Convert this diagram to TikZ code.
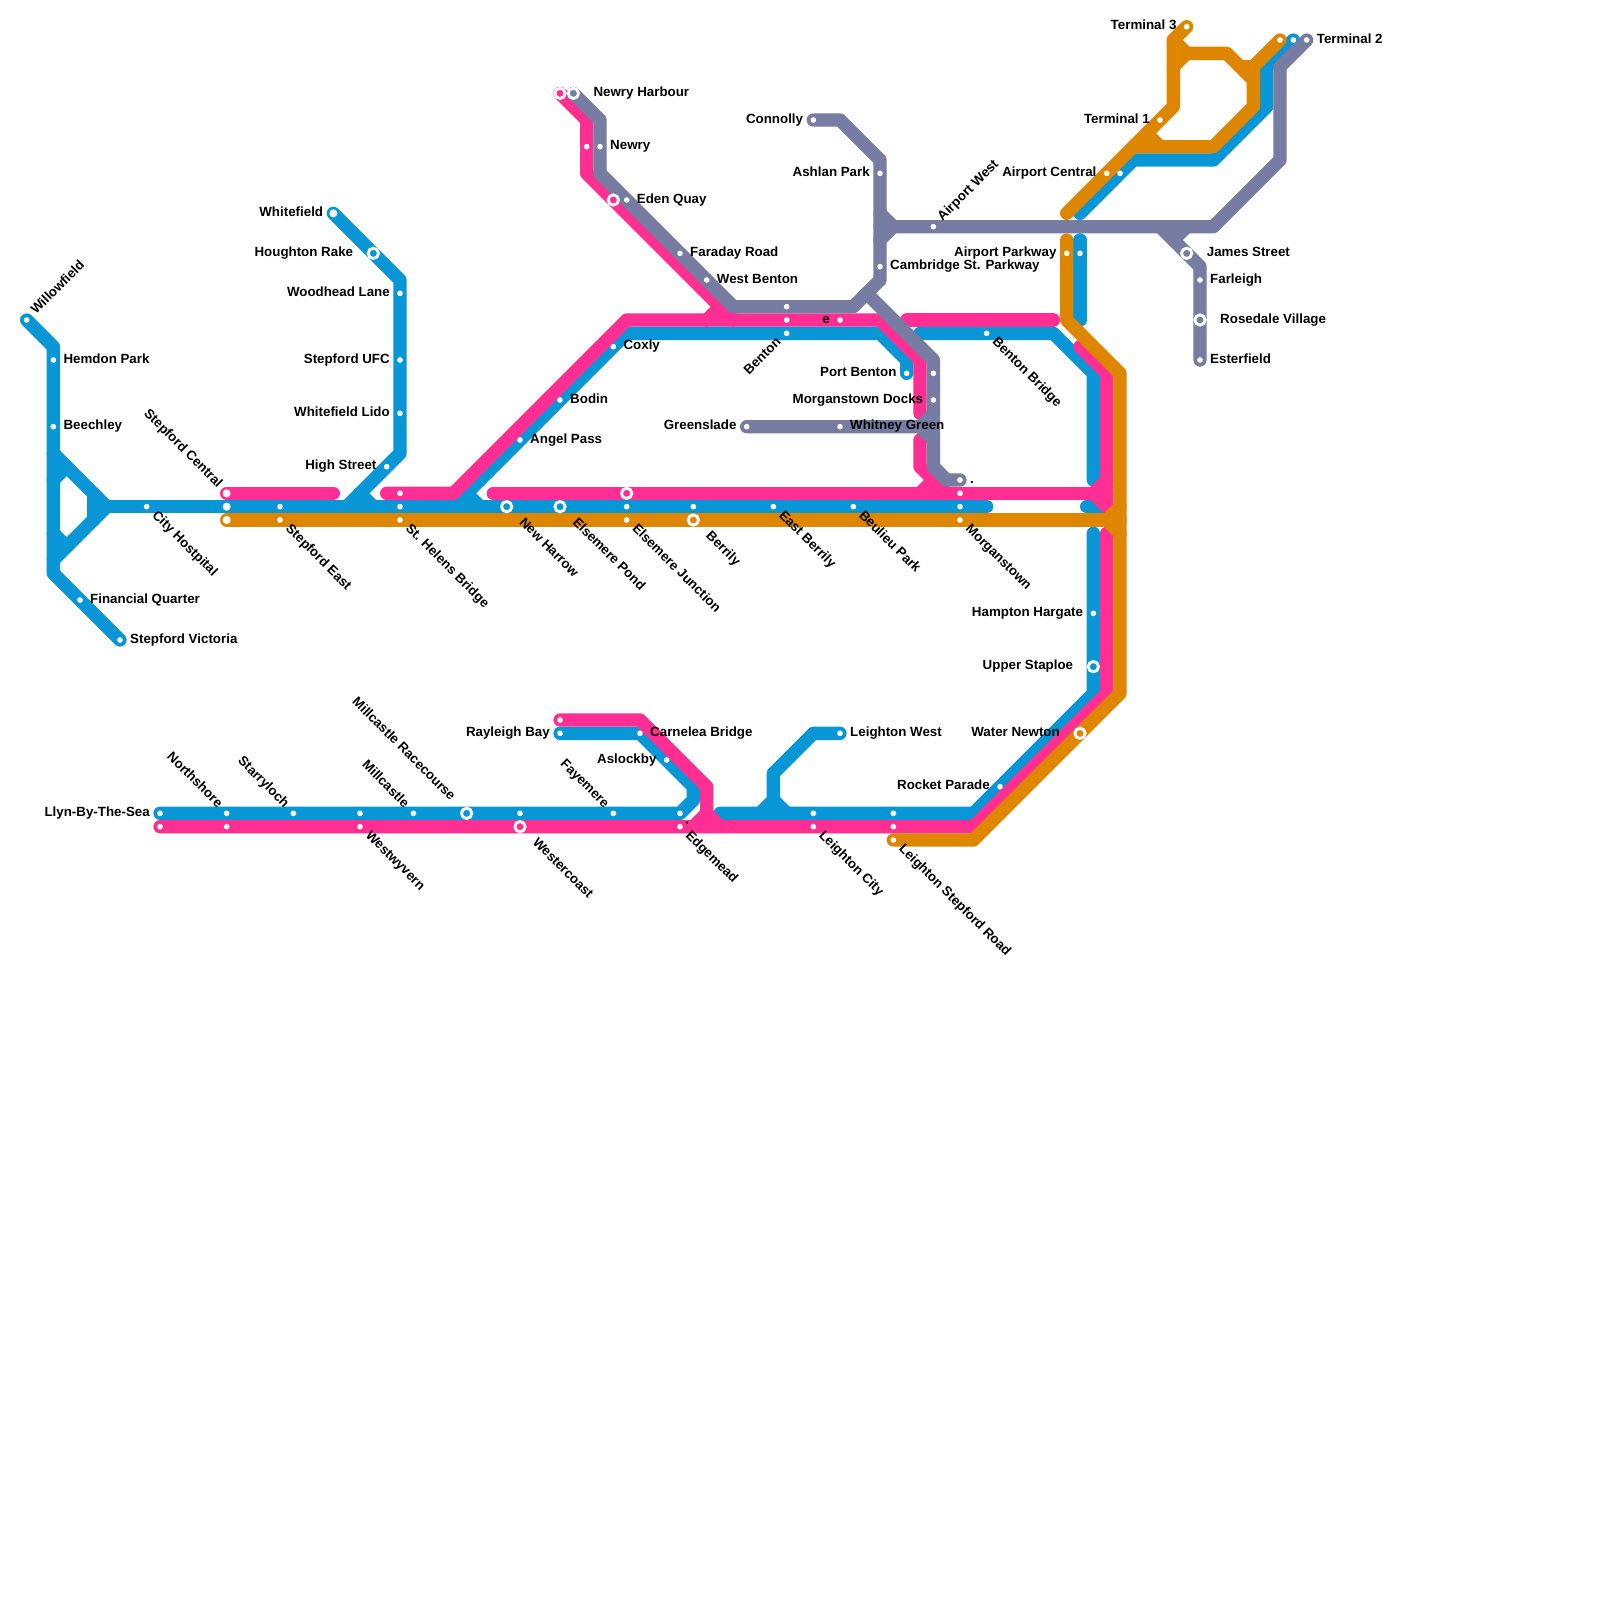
\documentclass[tikz,border=0pt]{standalone}
\usepackage{fontspec}
\setmainfont{Liberation Sans}
\definecolor{lblue}{HTML}{0896D7}
\definecolor{lpink}{HTML}{FF2E92}
\definecolor{lorange}{HTML}{DF8600}
\definecolor{lgrey}{HTML}{767CA2}
\tikzset{
  trackline/.style={line width=0.4cm,line cap=round,line join=round},
  bluel/.style={trackline,draw=lblue},
  pinkl/.style={trackline,draw=lpink},
  greyl/.style={trackline,draw=lgrey},
  orangel/.style={trackline,draw=lorange},
  sdot/.style={circle,fill=white,inner sep=0pt,minimum size=0.17cm},
  sbig/.style={circle,fill=white,inner sep=0pt,minimum size=0.24cm},
  sring/.style={circle,draw=white,line width=0.085cm,fill=#1,inner sep=0pt,minimum size=0.31cm},
  lbl/.style={font=\fontsize{11.38pt}{13pt}\selectfont\bfseries,text=black,inner sep=0pt,text height=0.72em,text depth=0.2em},
}
\newcommand{\Lr}[3][3mm]{\node[lbl,anchor=west] (#2-l) at ([xshift=#1]#2.center) {#3};}
\newcommand{\Ll}[3][3mm]{\node[lbl,anchor=east] (#2-l) at ([xshift=-#1]#2.center) {#3};}
\newcommand{\Lse}[3][2.12mm]{\node[lbl,rotate=-45,anchor=west] (#2-l) at ([xshift=#1,yshift=-#1]#2.center) {#3};}
\newcommand{\Lnw}[3][2.12mm]{\node[lbl,rotate=-45,anchor=east] (#2-l) at ([xshift=-#1,yshift=#1]#2.center) {#3};}
\newcommand{\Lne}[2]{\node[lbl,rotate=45,anchor=west] (#1-l) at ([xshift=2.12mm,yshift=2.12mm]#1.center) {#2};}
\newcommand{\Lsw}[2]{\node[lbl,rotate=45,anchor=east] (#1-l) at ([xshift=-2.12mm,yshift=-2.12mm]#1.center) {#2};}
\begin{document}
\begin{tikzpicture}[x=0.4cm,y=-0.4cm]
\fill[white] (0,0) rectangle (120,120);
\useasboundingbox (0,0) rectangle (120,120);
% termini and junctions
\coordinate (willow) at (2,24);
\coordinate (vict) at (9,48);
\coordinate (hub) at (8,38);
\coordinate (whitef) at (25,16);
\coordinate (portb) at (68,28);
\coordinate (morgb) at (72,38);
\coordinate (airb) at (81,16);
\coordinate (term2b) at (97,3);
\coordinate (rayb) at (42,55);
\coordinate (llynb) at (12,61);
\coordinate (lwest) at (63,55);
\coordinate (scp) at (17,37);
\coordinate (harbp) at (42,7);
\coordinate (raybp) at (42,54);
\coordinate (llynp) at (12,62);
\coordinate (harbg) at (43,7);
\coordinate (connolly) at (61,9);
\coordinate (term2g) at (98,3);
\coordinate (green) at (56,32);
\coordinate (dotg) at (72,36);
\coordinate (ester) at (90,27);
\coordinate (sco) at (17,39);
\coordinate (lsro) at (67,63);
\coordinate (airo) at (80,16);
\coordinate (term3) at (89,2);
\coordinate (term2o) at (96,3);
% blue
\draw[bluel] (willow) -- (4,26) -- (4,43) -- (vict);
\draw[bluel] (4,34) -- (hub) -- (4,42);
\draw[bluel] (4,36) -- (5,35);
\draw[bluel] (4,40) -- (5,41);
\draw[bluel] (7,37) -- (7,39);
\draw[bluel] (hub) -- (74,38);
\draw[bluel] (whitef) -- (30,21) -- (30,34) -- (26,38);
\draw[bluel] (27,37) -- (28,38);
\draw[bluel] (portb) -- (68,27) -- (66,25) -- (47,25) -- (34,38);
\draw[bluel] (35,37) -- (36,38);
\draw[bluel] (69,25) -- (79,25) -- (82,28) -- (82,36);
\draw[bluel] (81.5,38) -- (83,38);
\draw[bluel] (82,40) -- (82,52) -- (73,61) -- (54,61);
\draw[bluel] (81,18) -- (81,24);
\draw[bluel] (airb) -- (85,12) -- (91,12) -- (95,8) -- (95,5) -- (term2b);
\draw[bluel] (rayb) -- (48,55) -- (52,59) -- (52,60) -- (51,61) -- (llynb);
\draw[bluel] (lwest) -- (61,55) -- (58,58) -- (58,60);
\draw[bluel] (57,61) -- (58,60) -- (59,61);
% pink
\draw[pinkl] (scp) -- (25,37);
\draw[pinkl] (29,37) -- (34,37) -- (47,24) -- (66,24) -- (69,27) -- (69,31);
\draw[pinkl] (69,33) -- (69,35) -- (71,37);
\draw[pinkl] (69,37) -- (70,36);
\draw[pinkl] (37,37) -- (83,37);
\draw[pinkl] (harbp) -- (44,9) -- (44,13) -- (55,24);
\draw[pinkl] (53,24) -- (54,23);
\draw[pinkl] (68,24) -- (79,24);
\draw[pinkl] (81,26) -- (83,28) -- (83,38);
\draw[pinkl] (83,36) -- (82,37) -- (83,38);
\draw[pinkl] (83,40) -- (83,52) -- (73,62) -- (llynp);
\draw[pinkl] (raybp) -- (48,54) -- (53,59) -- (53,62);
\draw[pinkl] (52,62) -- (53,61) -- (54,62);
% grey
\draw[greyl] (harbg) -- (45,9) -- (45,13) -- (55,23) -- (64,23) -- (66,21) -- (66,12) -- (63,9) -- (connolly);
\draw[greyl] (66,16) -- (67,17) -- (66,18);
\draw[greyl] (66,17) -- (91,17) -- (96,12) -- (96,5) -- (term2g);
\draw[greyl] (65,22) -- (70,27) -- (70,35) -- (71,36) -- (dotg);
\draw[greyl] (green) -- (69,32) -- (70,31);
\draw[greyl] (69,32) -- (70,33);
\draw[greyl] (87,17) -- (90,20) -- (ester);
\draw[greyl] (88,18) -- (89,17);
% orange
\draw[orangel] (sco) -- (84,39);
\draw[orangel] (84,38) -- (83,39) -- (84,40);
\draw[orangel] (80,18) -- (80,24) -- (84,28) -- (84,52) -- (73,63) -- (lsro);
\draw[orangel] (airo) -- (88,8) -- (88,3) -- (term3);
\draw[orangel] (88,3) -- (89,4) -- (92,4) -- (94,6) -- (94,8) -- (91,11) -- (85,11);
\draw[orangel] (88,5) -- (89,4);
\draw[orangel] (86,10) -- (87,11);
\draw[orangel] (term2o) -- (94,5) -- (94,6);
\draw[orangel] (93,5) -- (94,5);
% stations
\node[sdot] (st-willow) at (willow) {};
\node[sdot] (hemdon) at (4,27) {};
\node[sdot] (beech) at (4,32) {};
\node[sdot] (finq) at (6,45) {};
\node[sdot] (st-vict) at (vict) {};
\node[sdot] (city) at (11,38) {};
\node[sbig] (stepc-p) at (17,37) {};
\node[sbig] (stepc) at (17,38) {};
\node[sbig] (stepc-o) at (17,39) {};
\node[sdot] (stepe-b) at (21,38) {};
\node[sdot] (stepe) at (21,39) {};
\node[sbig] (st-whitef) at (whitef) {};
\node[sring=lblue] (hough) at (28,19) {};
\node[sdot] (woodh) at (30,22) {};
\node[sdot] (ufc) at (30,27) {};
\node[sdot] (lido) at (30,31) {};
\node[sdot] (high) at (29,35) {};
\node[sdot] (helens-p) at (30,37) {};
\node[sdot] (helens-b) at (30,38) {};
\node[sdot] (helens) at (30,39) {};
\node[sring=lblue] (harrow) at (38,38) {};
\node[sring=lblue] (pond) at (42,38) {};
\node[sring=lpink] (junc-p) at (47,37) {};
\node[sdot] (junc-b) at (47,38) {};
\node[sdot] (junc) at (47,39) {};
\node[sdot] (berr-b) at (52,38) {};
\node[sring=lorange] (berr) at (52,39) {};
\node[sdot] (eastb) at (58,38) {};
\node[sdot] (beul) at (64,38) {};
\node[sdot] (morg-p) at (72,37) {};
\node[sdot] (morg-b) at (72,38) {};
\node[sdot] (morg) at (72,39) {};
\node[sdot] (angel) at (39,33) {};
\node[sdot] (bodin) at (42,30) {};
\node[sdot] (coxly) at (46,26) {};
\node[sring=lpink] (harbour-p) at (harbp) {};
\node[sring=lgrey] (harbour) at (harbg) {};
\node[sdot] (newry-p) at (44,11) {};
\node[sdot] (newry) at (45,11) {};
\node[sring=lpink] (eden-p) at (46,15) {};
\node[sdot] (eden) at (47,15) {};
\node[sdot] (faraday) at (51,19) {};
\node[sdot] (wbenton) at (53,21) {};
\node[sdot] (benton-g) at (59,23) {};
\node[sdot] (benton-p) at (59,24) {};
\node[sdot] (benton) at (59,25) {};
\node[sdot] (estn) at (63,24) {};
\node[sdot] (conn) at (connolly) {};
\node[sdot] (ashlan) at (66,13) {};
\node[sdot] (camb) at (66,20) {};
\node[sdot] (airw) at (70,17) {};
\node[sdot] (portben) at (portb) {};
\node[sdot] (bbridge) at (74,25) {};
\node[sdot] (mdocks0) at (70,28) {};
\node[sdot] (mdocks) at (70,30) {};
\node[sdot] (greens) at (green) {};
\node[sdot] (whitney) at (63,32) {};
\node[sdot] (dotst) at (dotg) {};
\node[sdot] (park-o) at (80,19) {};
\node[sdot] (park-b) at (81,19) {};
\node[sdot] (airc) at (83,13) {};
\node[sdot] (airc-b) at (84,13) {};
\node[sdot] (t1) at (87,9) {};
\node[sdot] (t3) at (term3) {};
\node[sdot] (t2o) at (term2o) {};
\node[sdot] (t2b) at (term2b) {};
\node[sdot] (t2) at (term2g) {};
\node[sring=lgrey] (james) at (89,19) {};
\node[sdot] (farl) at (90,21) {};
\node[sring=lgrey] (rose) at (90,24) {};
\node[sdot] (est) at (ester) {};
\node[sdot] (hamp) at (82,46) {};
\node[sring=lblue] (staploe) at (82,50) {};
\node[sring=lorange] (water) at (81,55) {};
\node[sdot] (rocket) at (75,59) {};
\node[sdot] (llyn) at (llynb) {};
\node[sdot] (llyn-p) at (llynp) {};
\node[sdot] (north) at (17,61) {};
\node[sdot] (north-p) at (17,62) {};
\node[sdot] (starry) at (22,61) {};
\node[sdot] (wyv-b) at (27,61) {};
\node[sdot] (wyv) at (27,62) {};
\node[sdot] (mill) at (31,61) {};
\node[sring=lblue] (race) at (35,61) {};
\node[sdot] (west-b) at (39,61) {};
\node[sring=lpink] (west) at (39,62) {};
\node[sdot] (faye) at (46,61) {};
\node[sdot] (edge-b) at (51,61) {};
\node[sdot] (edge) at (51,62) {};
\node[sdot] (rayl-p) at (raybp) {};
\node[sdot] (rayl) at (rayb) {};
\node[sdot] (carn) at (48,55) {};
\node[sdot] (aslo) at (50,57) {};
\node[sdot] (lw) at (lwest) {};
\node[sdot] (lc-b) at (61,61) {};
\node[sdot] (lc) at (61,62) {};
\node[sdot] (lsr-b) at (67,61) {};
\node[sdot] (lsr-p) at (67,62) {};
\node[sdot] (lsr) at (lsro) {};
% labels
\Lne{st-willow}{Willowfield}
\Lr{hemdon}{Hemdon Park}
\Lr{beech}{Beechley}
\Lr{finq}{Financial Quarter}
\Lr{st-vict}{Stepford Victoria}
\Lse{city}{City Hostpital}
\Lnw{stepc-p}{Stepford Central}
\Lse{stepe}{Stepford East}
\Ll{st-whitef}{Whitefield}
\Ll[6mm]{hough}{Houghton Rake}
\Ll{woodh}{Woodhead Lane}
\Ll{ufc}{Stepford UFC}
\Ll{lido}{Whitefield Lido}
\Ll{high}{High Street}
\Lse{helens}{St. Helens Bridge}
\Lse[4.24mm]{harrow}{New Harrow}
\Lse[4.24mm]{pond}{Elsemere Pond}
\Lse{junc}{Elsemere Junction}
\Lse[4.24mm]{berr}{Berrily}
\Lse{eastb}{East Berrily}
\Lse{beul}{Beulieu Park}
\Lse{morg}{Morganstown}
\Lr{angel}{Angel Pass}
\Lr{bodin}{Bodin}
\Lr{coxly}{Coxly}
\Lr[6mm]{harbour}{Newry Harbour}
\Lr{newry}{Newry}
\Lr{eden}{Eden Quay}
\Lr{faraday}{Faraday Road}
\Lr{wbenton}{West Benton}
\Lsw{benton}{Benton}
\Ll{estn}{e}
\Ll{conn}{Connolly}
\Ll{ashlan}{Ashlan Park}
\Lr{camb}{Cambridge St. Parkway}
\Lne{airw}{Airport West}
\Ll{portben}{Port Benton}
\Lse{bbridge}{Benton Bridge}
\Ll{mdocks}{Morganstown Docks}
\Ll{greens}{Greenslade}
\Lr{whitney}{Whitney Green}
\Lr{dotst}{.}
\Ll{park-o}{Airport Parkway}
\Ll{airc}{Airport Central}
\Ll{t1}{Terminal 1}
\Ll{t3}{Terminal 3}
\Lr{t2}{Terminal 2}
\Lr[6mm]{james}{James Street}
\Lr{farl}{Farleigh}
\Lr[6mm]{rose}{Rosedale Village}
\Lr{est}{Esterfield}
\Ll{hamp}{Hampton Hargate}
\Ll[6mm]{staploe}{Upper Staploe}
\Ll[6mm]{water}{Water Newton}
\Ll{rocket}{Rocket Parade}
\Ll{llyn}{Llyn-By-The-Sea}
\Lnw{north}{Northshore}
\Lnw{starry}{Starryloch}
\Lnw{mill}{Millcastle}
\Lse{wyv}{Westwyvern}
\Lnw[4.24mm]{race}{Millcastle Racecourse}
\Lse[4.24mm]{west}{Westercoast}
\Lnw{faye}{Fayemere}
\Lse{edge-b}{.}
\Lse{edge}{Edgemead}
\Ll{rayl}{Rayleigh Bay}
\Lr{carn}{Carnelea Bridge}
\Ll{aslo}{Aslockby}
\Lr{lw}{Leighton West}
\Lse{lc}{Leighton City}
\Lse{lsr}{Leighton Stepford Road}
\end{tikzpicture}
\end{document}
